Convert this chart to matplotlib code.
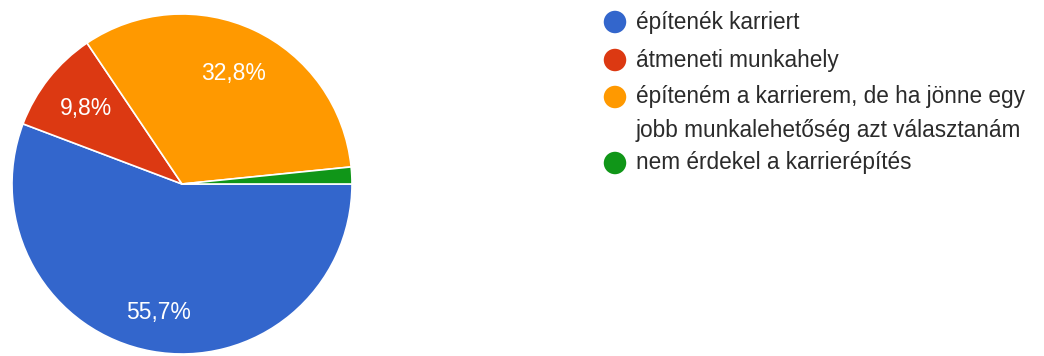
import matplotlib
matplotlib.use("Agg")
import matplotlib.pyplot as plt
import numpy as np

plt.rcParams['font.family'] = ['Liberation Sans', 'DejaVu Sans']

# Survey answers and their shares (percent)
categories = [
    "építenék karriert",
    "átmeneti munkahely",
    "építeném a karrierem, de ha jönne egy\njobb munkalehetőség azt választanám",
    "nem érdekel a karrierépítés",
]
shares = [55.7, 9.8, 32.8, 1.6]
colors = ["#3366CC", "#DC3912", "#FF9900", "#109618"]
value_labels = ["55,7%", "9,8%", "32,8%", ""]

W, H = 1044, 356
fig = plt.figure(figsize=(W / 100, H / 100), dpi=100)

# Pie axes placed so the disc spans pixel box centred at (182, 184), radius 170
cx, cy, r = 182, 184, 170
ax = fig.add_axes([(cx - r) / W, (H - cy - r) / H, 2 * r / W, 2 * r / H])
wedges, _ = ax.pie(
    shares,
    colors=colors,
    startangle=0,
    counterclock=False,
    radius=1.0,
    wedgeprops=dict(edgecolor="white", linewidth=1.2),
)
ax.set_xlim(-1, 1)
ax.set_ylim(-1, 1)
ax.set_aspect("equal")
ax.axis("off")

# Percentage labels inside the slices
label_dist = [0.77, 0.72, 0.72, 0.72]
for w, txt, d in zip(wedges, value_labels, label_dist):
    if not txt:
        continue
    ang = np.deg2rad((w.theta1 + w.theta2) / 2)
    ax.text(d * np.cos(ang), d * np.sin(ang), txt, ha="center", va="center",
            color="white", fontsize=16.5)

# Legend drawn in pixel coordinates
lax = fig.add_axes([0, 0, 1, 1])
lax.set_xlim(0, W)
lax.set_ylim(H, 0)
lax.axis("off")
rows_y = [22, 60, 97, 163]
text_y = [22, 60, 113.5, 163]
for name, col, yd, yt in zip(categories, colors, rows_y, text_y):
    lax.scatter([615], [yd], s=262, color=col, edgecolors="none")
    lax.text(636, yt, name, ha="left", va="center", fontsize=16.3,
             color="#2b2b2b", linespacing=1.6)

fig.savefig("out.png", dpi=100, facecolor="white")
